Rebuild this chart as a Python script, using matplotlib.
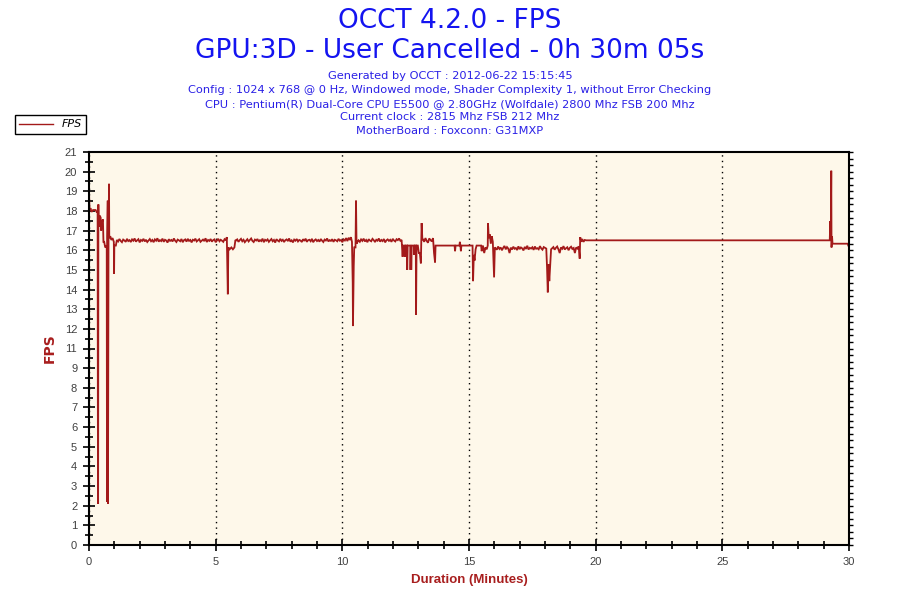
import matplotlib
matplotlib.use("Agg")
import matplotlib.pyplot as plt
import numpy as np
from matplotlib.lines import Line2D

# Chart texts
title_lines = ["OCCT 4.2.0 - FPS", "GPU:3D - User Cancelled - 0h 30m 05s"]
info_lines = [
    "Generated by OCCT : 2012-06-22 15:15:45",
    "Config : 1024 x 768 @ 0 Hz, Windowed mode, Shader Complexity 1, without Error Checking",
    "CPU : Pentium(R) Dual-Core CPU E5500 @ 2.80GHz (Wolfdale) 2800 Mhz FSB 200 Mhz",
    "Current clock : 2815 Mhz FSB 212 Mhz",
    "MotherBoard : Foxconn: G31MXP",
]
series_name = "FPS"
xlabel = "Duration (Minutes)"
ylabel = "FPS"

# OCCT draws 20 y divisions over 0..21 and rounds the labels (so "10" never shows)
ytick_labels = ["0", "1", "2", "3", "4", "5", "6", "7", "8", "9", "11",
                "12", "13", "14", "15", "16", "17", "18", "19", "20", "21"]
xtick_values = [0, 5, 10, 15, 20, 25, 30]

# FPS samples, minutes / fps
start_t = [0.00, 0.02, 0.06, 0.10, 0.16, 0.26, 0.30, 0.34, 0.35, 0.36, 0.37, 0.38,
           0.42, 0.46, 0.48, 0.52, 0.55, 0.57, 0.60, 0.64, 0.70, 0.71, 0.72, 0.74,
           0.75, 0.77, 0.79, 0.80, 0.84, 0.88, 0.93, 0.98, 0.99, 1.00, 1.06]
start_v = [18.9, 17.9, 18.0, 17.8, 17.9, 17.9, 17.8, 17.8, 6.6, 2.2, 18.2, 17.0,
           17.6, 17.5, 16.8, 17.3, 17.4, 16.2, 16.2, 15.9, 16.0, 2.3, 16.5, 18.4,
           2.2, 16.3, 19.3, 16.4, 16.5, 16.3, 16.4, 16.2, 14.5, 16.0, 16.0]

band1_t0 = 1.10
band1_v = [16.30, 16.22, 16.35, 16.25, 16.18, 16.32, 16.27, 16.20, 16.36, 16.24,
           16.29, 16.19, 16.33, 16.26, 16.38, 16.21, 16.28, 16.34, 16.17, 16.30,
           16.25, 16.36, 16.22, 16.31, 16.19, 16.27, 16.35, 16.23, 16.30, 16.18,
           16.33, 16.26, 16.39, 16.21, 16.29, 16.24, 16.37, 16.20, 16.31, 16.27,
           16.16, 16.34, 16.25, 16.30, 16.22, 16.38, 16.26, 16.19, 16.32, 16.28,
           16.23, 16.35, 16.18, 16.29, 16.33, 16.21, 16.36, 16.25, 16.30, 16.17,
           16.31, 16.27, 16.37, 16.22, 16.28, 16.34, 16.20, 16.26, 16.32, 16.24,
           16.39, 16.19, 16.30, 16.25, 16.35, 16.21, 16.29, 16.33, 16.18, 16.27,
           16.36, 16.23, 16.31, 16.26, 16.20, 16.34, 16.28]

dip5_t = [5.44, 5.48, 5.50, 5.55, 5.62, 5.68, 5.74, 5.78]
dip5_v = [16.45, 13.4, 15.9, 15.8, 15.9, 15.8, 15.9, 16.3]

band2_t0 = 5.80
band2_v = [16.27, 16.33, 16.20, 16.29, 16.36, 16.23, 16.31, 16.18, 16.26, 16.34,
           16.22, 16.30, 16.38, 16.25, 16.19, 16.32, 16.27, 16.35, 16.21, 16.29,
           16.24, 16.37, 16.18, 16.31, 16.26, 16.33, 16.20, 16.28, 16.35, 16.23,
           16.30, 16.16, 16.34, 16.27, 16.22, 16.36, 16.25, 16.31, 16.19, 16.29,
           16.33, 16.24, 16.38, 16.21, 16.28, 16.17, 16.32, 16.26, 16.35, 16.22,
           16.30, 16.27, 16.19, 16.34, 16.25, 16.37, 16.20, 16.29, 16.31, 16.23,
           16.36, 16.18, 16.28, 16.33, 16.24, 16.30, 16.21, 16.35, 16.26, 16.19,
           16.32, 16.27, 16.38, 16.22, 16.29, 16.25, 16.34, 16.20, 16.31, 16.28,
           16.23, 16.36, 16.26, 16.30, 16.18, 16.33, 16.27, 16.40, 16.24, 16.42,
           16.30]

dip10_t = [10.34, 10.38, 10.41, 10.42, 10.45, 10.47, 10.52, 10.54, 10.56, 10.60]
dip10_v = [16.45, 16.2, 14.0, 11.7, 14.9, 15.9, 15.9, 18.4, 16.1, 16.2]

band3_t0 = 10.64
band3_v = [16.28, 16.20, 16.33, 16.25, 16.37, 16.22, 16.30, 16.18, 16.34, 16.27,
           16.23, 16.36, 16.29, 16.19, 16.31, 16.26, 16.38, 16.21, 16.30, 16.24,
           16.35, 16.17, 16.28, 16.33, 16.25, 16.31, 16.20, 16.36, 16.27, 16.22,
           16.34, 16.29, 16.38, 16.26, 16.30]

mid_t = [12.38, 12.40, 12.46, 12.47, 12.50, 12.55, 12.56, 12.58, 12.68, 12.69,
         12.71, 12.72, 12.74, 12.82, 12.84, 12.86, 12.90, 12.91, 12.93, 12.98,
         13.02, 13.06, 13.10, 13.13, 13.16,
         13.18, 13.23, 13.28, 13.33, 13.38, 13.43, 13.48, 13.53, 13.58,
         13.62, 13.66, 13.68, 14.43, 14.45, 14.47, 14.62, 14.64, 14.66, 14.68,
         14.70, 15.14, 15.16, 15.19, 15.22, 15.26, 15.30, 15.48,
         15.50, 15.55, 15.60, 15.65, 15.70,
         15.74, 15.75, 15.78, 15.82, 15.86, 15.90, 15.94, 15.99, 16.02]
mid_v = [15.4, 16.0, 16.0, 15.4, 16.0, 16.0, 14.7, 16.0, 16.0, 14.7,
         16.0, 14.7, 16.0, 16.0, 15.5, 16.0, 16.0, 12.3, 16.0, 16.0,
         15.6, 15.6, 15.05, 17.2, 16.3,
         16.35, 16.2, 16.4, 16.25, 16.15, 16.38, 16.3, 16.22, 16.4,
         15.6, 15.1, 16.0, 16.0, 15.7, 16.0, 16.0, 16.2, 16.0, 15.7,
         16.0, 16.0, 14.1, 15.5, 15.2, 15.8, 16.0, 16.0,
         15.7, 16.0, 15.6, 15.9, 15.8,
         16.0, 17.2, 16.4, 16.6, 16.1, 16.5, 16.2, 14.3, 15.9]

band4_t0 = 16.05
band4_v = [15.86, 15.78, 15.95, 15.82, 15.90, 15.75, 15.88, 15.98, 15.80, 15.92,
           15.84, 15.60, 15.89, 15.79, 15.94, 15.83, 15.87, 15.76, 15.96, 15.81,
           15.90, 15.85, 15.74, 15.93, 15.82, 15.99, 15.79, 15.88, 15.84, 15.91,
           15.77, 15.95, 15.83, 15.86, 15.80, 15.97, 15.85, 15.78, 15.92, 15.88,
           15.84]

dip18_t = [18.08, 18.11, 18.14, 18.17, 18.20, 18.24]
dip18_v = [14.85, 13.5, 15.0, 14.1, 14.85, 15.8]

band5_t0 = 18.28
band5_v = [15.85, 15.92, 15.78, 15.88, 15.95, 15.80, 15.60, 15.90, 15.83, 15.97,
           15.79, 15.86, 15.91, 15.75, 15.88, 15.94, 15.82, 15.87, 15.60, 15.90,
           15.84, 15.96]

end_t = [19.37, 19.39, 19.43, 19.47, 19.52, 19.57, 19.62, 29.24, 29.26, 29.28,
         29.30, 29.31, 29.33, 29.35, 29.95, 29.97, 30.08]
end_v = [15.3, 16.45, 16.2, 16.35, 16.2, 16.3, 16.28, 16.28, 17.3, 16.3,
         20.0, 15.9, 16.5, 16.1, 16.1, 16.0, 16.0]

SAMPLE_STEP = 0.05  # minutes between samples in the noisy stretches


def band_times(t0, values):
    return list(t0 + SAMPLE_STEP * np.arange(len(values)))


times = (start_t + band_times(band1_t0, band1_v) + dip5_t
         + band_times(band2_t0, band2_v) + dip10_t
         + band_times(band3_t0, band3_v) + mid_t
         + band_times(band4_t0, band4_v) + dip18_t
         + band_times(band5_t0, band5_v) + end_t)
fps = (start_v + band1_v + dip5_v + band2_v + dip10_v + band3_v + mid_v
       + band4_v + dip18_v + band5_v + end_v)

line_color = "#A31A1A"
title_color = "#1414F0"
info_color = "#2A20E6"
label_color = "#A81E1E"
narrow = ["Liberation Sans", "DejaVu Sans"]

fig = plt.figure(figsize=(9, 6), dpi=100)
ax = fig.add_axes([89 / 900, 55 / 600, 760 / 900, 393 / 600])
ax.set_facecolor("#FEF8EA")

ax.plot(times, fps, color=line_color, lw=1.3, solid_joinstyle="miter")

ax.set_xlim(0, 30)
ax.set_ylim(0, 21)

ax.set_xticks(xtick_values)
ax.set_xticks(np.arange(0, 31, 1), minor=True)
ax.set_yticks(np.linspace(0, 21, 21))
ax.set_yticklabels(ytick_labels)
ax.set_yticks(np.linspace(0, 21, 41), minor=True)
ax.tick_params(which="major", direction="inout", length=9, width=1.2,
               labelsize=8, labelcolor="#404040", pad=4)
ax.tick_params(which="minor", direction="inout", length=6, width=1.2)
for lab in ax.get_xticklabels() + ax.get_yticklabels():
    lab.set_family(narrow)

# small outer ticks on the right border
sec = ax.secondary_yaxis("right")
sec.set_yticks(np.linspace(0, 21, 61))
sec.tick_params(direction="out", length=3, width=1, labelright=False)

for side in ax.spines:
    ax.spines[side].set_linewidth(1.5)
sec.spines["right"].set_visible(False)

ax.grid(axis="x", which="major", color="black", lw=1, linestyle=(0, (1, 3)))

ax.set_xlabel(xlabel, color=label_color, fontsize=9.5, fontweight="bold",
              family=narrow, va="center")
ax.xaxis.set_label_coords(0.5, (545 - 580) / 393)
ax.set_ylabel(ylabel, color=label_color, fontsize=10, fontweight="bold",
              va="center")
ax.yaxis.set_label_coords((50 - 89) / 760, 0.5)

fig.text(0.5, 1 - 21 / 600, title_lines[0], color=title_color, fontsize=19,
         ha="center", va="center")
fig.text(0.5, 1 - 51 / 600, title_lines[1], color=title_color, fontsize=19,
         ha="center", va="center")
for i, line in enumerate(info_lines):
    fig.text(0.5, 1 - (76 + 13.8 * i) / 600, line, color=info_color,
             fontsize=8.2, ha="center", va="center")

handle = Line2D([], [], color=line_color, lw=1)
leg = fig.legend([handle], [series_name], loc="upper left",
                 bbox_to_anchor=(15 / 900, 1 - 115 / 600),
                 bbox_transform=fig.transFigure, fancybox=False,
                 edgecolor="black", framealpha=1, borderpad=0.4,
                 borderaxespad=0, handlelength=3, handletextpad=0.8,
                 prop={"style": "italic", "size": 8})
leg.get_frame().set_linewidth(1)

fig.savefig("out.png", dpi=100, facecolor="white")
